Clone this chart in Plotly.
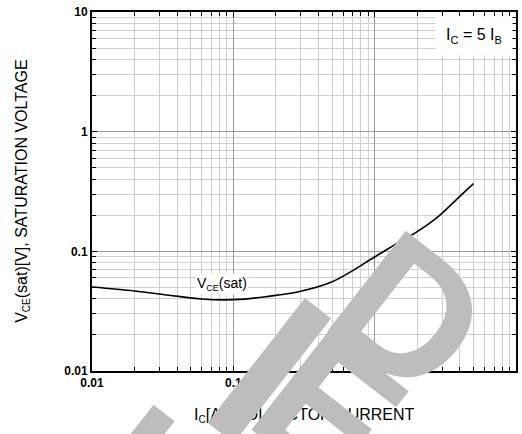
import plotly.graph_objects as go

# ---- data ----
ic_a = [0.01, 0.02, 0.035, 0.06, 0.085, 0.12, 0.17, 0.29, 0.5, 1.0, 1.5, 2.0, 2.8, 4.0, 5.0]
vce_sat = [0.0503, 0.0466, 0.0430, 0.0400, 0.0393, 0.0399, 0.0418, 0.0460, 0.0557,
           0.0897, 0.120, 0.146, 0.194, 0.288, 0.368]
tick_vals = [0.01, 0.1, 1, 10]
tick_text = ["0.01", "0.1", "1", "10"]

W, H = 522, 434
ML, MR, MT, MB = 92, 4, 12, 63
PW, PH = W - ML - MR, H - MT - MB


def px(x, y):
    """pixel position -> paper coords (for decorations only)"""
    return (x - ML) / PW, (H - MB - y) / PH


def sub(s, size=9):
    return '<sub><span style="font-size:%dpx">%s</span></sub>' % (size, s)


FONT = "Liberation Sans, Arial, sans-serif"

fig = go.Figure()
fig.add_trace(go.Scatter(x=ic_a, y=vce_sat, mode="lines",
                         line=dict(color="black", width=1.6, shape="spline", smoothing=1.0),
                         showlegend=False, hoverinfo="skip"))

axis_common = dict(
    type="log", range=[-2, 1],
    showline=True, linecolor="black", linewidth=2, mirror="ticks",
    showgrid=True, gridcolor="#999999", gridwidth=1,
    ticks="inside", ticklen=5, tickcolor="black", tickwidth=1,
    tickvals=tick_vals, ticktext=tick_text,
    tickfont=dict(family=FONT, size=12, color="black", weight="bold"),
    minor=dict(showgrid=True, gridcolor="#d0d0d0", gridwidth=1,
               ticks="inside", ticklen=4, tickcolor="black", tickwidth=1,
               tickvals=[m * 10 ** e for e in (-2, -1, 0) for m in range(2, 10)]),
    zeroline=False,
)
fig.update_xaxes(**axis_common)
fig.update_yaxes(**axis_common)

ann = []
# axis titles
x0, y0 = px(305, 415)
ann.append(dict(x=x0, y=y0, xref="paper", yref="paper", showarrow=False,
                xanchor="center", yanchor="middle",
                text="I" + sub("C", 10) + "[A], COLLECTOR CURRENT",
                font=dict(family=FONT, size=16, color="black")))
x0, y0 = px(22, 191.5)
ann.append(dict(x=x0, y=y0, xref="paper", yref="paper", showarrow=False, textangle=-90,
                xanchor="center", yanchor="middle",
                text="V" + sub("CE", 10) + "(sat)[V], SATURATION VOLTAGE",
                font=dict(family=FONT, size=16, color="black")))
# curve label
x0, y0 = px(223, 284)
ann.append(dict(x=x0, y=y0, xref="paper", yref="paper", showarrow=False,
                xanchor="center", yanchor="middle",
                text="V" + sub("CE", 9) + "(sat)", bgcolor="white", borderpad=1,
                font=dict(family=FONT, size=14, color="black")))
# condition box
x0, y0 = px(476, 36)
ann.append(dict(x=x0, y=y0, xref="paper", yref="paper", showarrow=False,
                xanchor="center", yanchor="middle",
                text="I" + sub("C", 11) + " = 5 I" + sub("B", 11), bgcolor="white",
                width=74, height=36,
                font=dict(family=FONT, size=16, color="black")))
# watermark letters
for ch, (cx, cy), fs in [("L", (150, 482), 185), ("I", (271, 370), 230),
                         ("E", (331, 410), 185), ("D", (411, 314), 185)]:
    x0, y0 = px(cx, cy)
    ann.append(dict(x=x0, y=y0, xref="paper", yref="paper", showarrow=False,
                    xanchor="center", yanchor="middle",
                    text=ch, textangle=38,
                    font=dict(family="Liberation Sans Narrow, Liberation Sans", size=fs,
                              color="#bdbdbd", weight="bold")))

fig.update_layout(
    width=W, height=H, margin=dict(l=ML, r=MR, t=MT, b=MB),
    paper_bgcolor="white", plot_bgcolor="white",
    annotations=ann,
)
fig.write_html("out.html", config={"displayModeBar": False},
               post_script="document.body.style.margin='0px';")
